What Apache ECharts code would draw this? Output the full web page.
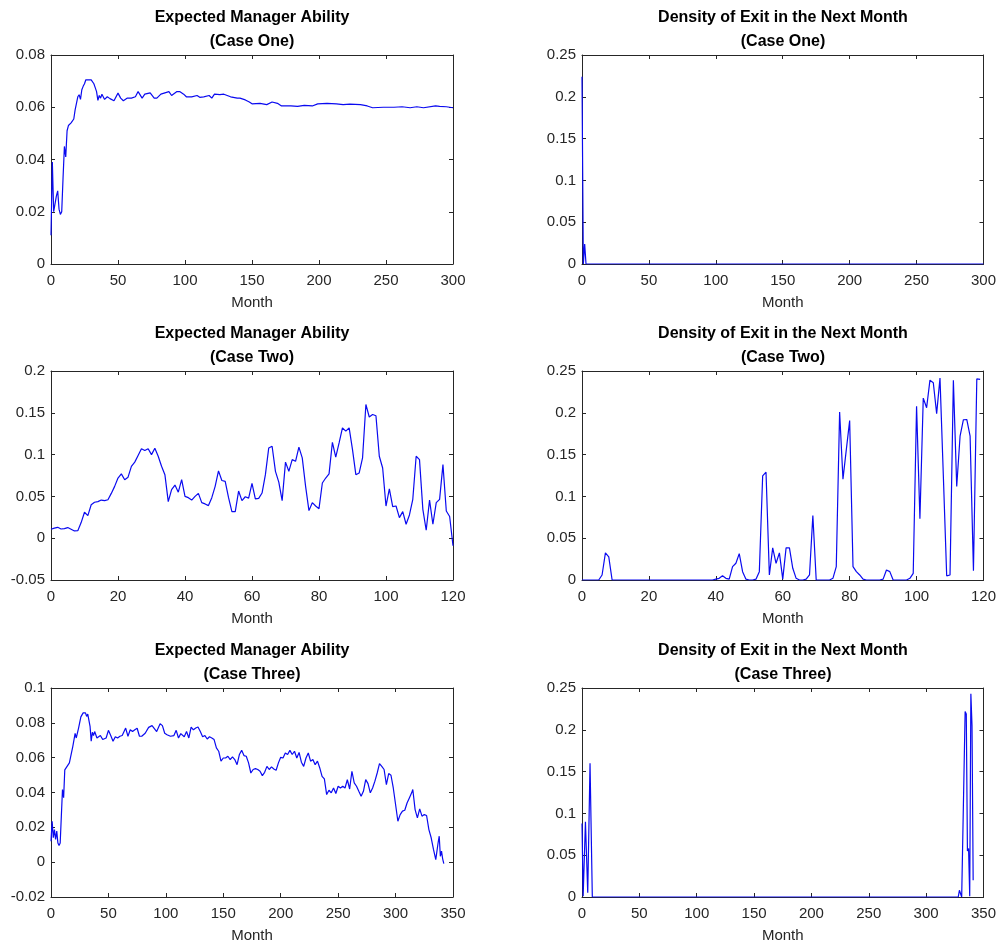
<!DOCTYPE html>
<html>
<head>
<meta charset="utf-8">
<script src="https://cdn.jsdelivr.net/npm/echarts@6/dist/echarts.min.js"></script>
<style>
html,body{margin:0;padding:0;background:#fff;}
#chart{width:999px;height:945px;}
</style>
</head>
<body>
<div id="chart"></div>
<script>
// ---------- Data ----------
const titles = [
  "Expected Manager Ability\n(Case One)",
  "Density of Exit in the Next Month\n(Case One)",
  "Expected Manager Ability\n(Case Two)",
  "Density of Exit in the Next Month\n(Case Two)",
  "Expected Manager Ability\n(Case Three)",
  "Density of Exit in the Next Month\n(Case Three)"
];
const xAxisName = "Month";

// Case One - expected ability
const abilityOneMonths = [0,1,2,3,4,5,6,7,8,9,10,11,12,13,14,15,16,17,18,19,20,21,22,23,24,25,26,27,28,29,30,31,32,33,34,35,36,37,38,39,40,42,44,47,50,52,54,57,60,63,65,68,70,74,77,79,82,85,88,90,94,96,99,101,105,109,111,114,118,120,122,126,129,134,139,141,145,148,150,156,161,165,169,172,179,184,189,195,199,206,213,218,223,231,236,240,248,256,262,268,273,278,287,290,295,300];
const abilityOneValues = [0.011,0.039,0.020,0.020,0.026,0.028,0.021,0.019,0.020,0.033,0.045,0.041,0.051,0.053,0.0535,0.054,0.054,0.0555,0.059,0.0615,0.064,0.0648,0.063,0.0667,0.068,0.069,0.0705,0.0703,0.0705,0.0698,0.0705,0.0698,0.069,0.0675,0.066,0.0626,0.0645,0.0635,0.065,0.0645,0.063,0.064,0.0633,0.0625,0.0654,0.0635,0.0625,0.0635,0.0635,0.064,0.066,0.0635,0.065,0.0655,0.0635,0.0635,0.065,0.0655,0.066,0.0645,0.066,0.066,0.065,0.064,0.064,0.0645,0.0638,0.064,0.0645,0.0635,0.065,0.0648,0.065,0.064,0.0635,0.0635,0.0628,0.062,0.0613,0.0615,0.061,0.062,0.0615,0.0605,0.0605,0.0603,0.0607,0.0605,0.0613,0.0615,0.0613,0.061,0.0612,0.061,0.0605,0.0598,0.060,0.060,0.0602,0.0598,0.0602,0.0598,0.0605,0.0603,0.0602,0.0598];

// Case One - density of exit
const exitOneMonths = [0,1,2,3,300];
const exitOneValues = [0.224,0.0,0.024,0.0,0.0];

// Case Two - expected ability (months 0..120)
const abilityTwoValues = [0.0107,0.012,0.013,0.011,0.0115,0.0127,0.0107,0.0087,0.009,0.0187,
  0.031,0.027,0.040,0.043,0.0437,0.0456,0.045,0.046,0.0536,0.062,
  0.072,0.077,0.070,0.073,0.086,0.091,0.099,0.107,0.105,0.107,
  0.100,0.1075,0.098,0.086,0.076,0.0437,0.058,0.0635,0.055,0.070,
  0.050,0.0485,0.0456,0.050,0.0536,0.0425,0.041,0.039,0.0485,0.062,
  0.0805,0.069,0.068,0.0485,0.0318,0.0318,0.0564,0.045,0.0496,0.048,
  0.0655,0.047,0.0476,0.054,0.076,0.108,0.110,0.080,0.067,0.045,
  0.091,0.080,0.094,0.092,0.109,0.096,0.062,0.033,0.0425,0.0385,
  0.0353,0.066,0.072,0.077,0.1147,0.097,0.114,0.132,0.128,0.132,
  0.106,0.076,0.078,0.096,0.160,0.145,0.148,0.1465,0.098,0.084,
  0.0385,0.059,0.0377,0.0385,0.0246,0.0318,0.0167,0.0278,0.0465,0.098,
  0.094,0.0345,0.0095,0.0456,0.0167,0.0425,0.0465,0.088,0.0325,0.026,
  -0.009];

// Case Two - density of exit (months 0..119)
const exitTwoValues = [0,0,0,0,0,0,0.006,0.0324,0.0277,0,
  0,0,0,0,0,0,0,0,0,0,
  0,0,0,0,0,0,0,0,0,0,
  0,0,0,0,0,0,0,0,0,0,
  0.001,0.002,0.005,0.002,0.001,0.016,0.020,0.0316,0.010,0.001,
  0,0,0.001,0.010,0.1246,0.129,0.006,0.0384,0.020,0.0324,
  0.001,0.0384,0.0384,0.014,0.002,0,0,0.001,0.006,0.0771,
  0,0,0,0,0,0.002,0.016,0.201,0.1206,0.156,
  0.1907,0.016,0.010,0.006,0.001,0,0,0,0,0,
  0.001,0.012,0.010,0,0,0,0,0,0.002,0.008,
  0.2077,0.0732,0.2176,0.206,0.239,0.236,0.199,0.2415,0.1246,0.005,
  0.006,0.239,0.112,0.172,0.1917,0.192,0.172,0.011,0.2405,0.240];

// Case Three - expected ability
const abilityThreeMonths = [0,1,2,3,4,5,6,7,8,9,10,11,12,14,16,17,19,21,22,24,26,28,30,31,32,34,35,36,37,38,40,43,45,48,50,52,54,56,58,60,62,65,67,69,71,73,75,77,79,82,85,88,90,92,95,97,99,101,104,107,109,111,113,116,118,120,122,124,126,128,130,132,134,136,138,140,142,144,146,148,150,152,154,156,158,160,162,164,166,168,170,172,174,176,178,180,182,184,186,188,190,192,194,196,198,200,202,204,206,208,210,212,214,216,218,220,222,224,226,228,230,232,234,236,238,240,242,244,246,248,250,252,254,256,258,260,262,264,266,268,270,272,274,276,278,280,282,284,286,288,290,292,294,296,298,300,302,304,306,308,310,312,314,315,317,319,321,323,325,327,329,330,331,333,335,337,338,339,340,341,342];
const abilityThreeValues = [0.012,0.0235,0.014,0.0187,0.013,0.0178,0.011,0.0096,0.011,0.0264,0.0417,0.037,0.053,0.055,0.057,0.056,0.0665,0.074,0.0713,0.077,0.0834,0.0857,0.0857,0.0837,0.085,0.078,0.0694,0.0746,0.0727,0.075,0.0713,0.0727,0.0704,0.0713,0.0757,0.0727,0.0694,0.072,0.0713,0.0723,0.0727,0.077,0.0723,0.076,0.075,0.076,0.0769,0.0723,0.0723,0.074,0.0774,0.0784,0.0767,0.075,0.0795,0.0784,0.074,0.0732,0.0723,0.0727,0.0757,0.0713,0.0738,0.072,0.075,0.0713,0.0776,0.076,0.077,0.0776,0.075,0.072,0.0727,0.0707,0.072,0.0713,0.0704,0.0656,0.0637,0.058,0.0598,0.0598,0.0608,0.0589,0.0604,0.0589,0.056,0.0618,0.0642,0.0612,0.0608,0.057,0.0512,0.0532,0.0537,0.0532,0.0522,0.0497,0.0516,0.055,0.0532,0.0547,0.0535,0.0528,0.057,0.0602,0.0598,0.0627,0.0618,0.0642,0.0618,0.0637,0.0598,0.063,0.0574,0.055,0.0598,0.0627,0.058,0.0589,0.056,0.058,0.0541,0.0493,0.0478,0.0388,0.0413,0.0398,0.0426,0.0394,0.0436,0.0426,0.0436,0.0426,0.0474,0.042,0.0522,0.0455,0.0436,0.0407,0.0379,0.0407,0.0474,0.0451,0.0398,0.0426,0.0465,0.0512,0.0566,0.055,0.0532,0.0445,0.0509,0.0499,0.0426,0.0331,0.0235,0.0273,0.0293,0.0298,0.034,0.0369,0.0398,0.0417,0.0302,0.0254,0.0306,0.0264,0.0273,0.0268,0.0187,0.0178,0.014,0.0073,0.0015,0.011,0.0149,0.0034,0.0063,0.0019,-0.0008];

// Case Three - density of exit
const exitThreeMonths = [0,1,3,5,7,9,328,329,330,331,334,335,336,337,338,339,340,341];
const exitThreeValues = [0.088,0.001,0.090,0.005,0.160,0.0,0.0,0.008,0.007,0.0,0.222,0.219,0.055,0.058,0.001,0.243,0.205,0.020];

// Axis scales per panel: [xmin, xmax, xstep, ymin, ymax, ystep]
const scales = [
  [0,300,50, 0,0.08,0.02],
  [0,300,50, 0,0.25,0.05],
  [0,120,20, -0.05,0.2,0.05],
  [0,120,20, 0,0.25,0.05],
  [0,350,50, -0.02,0.1,0.02],
  [0,350,50, 0,0.25,0.05]
];

const zip = (xs, ys) => ys.map((v, i) => [xs[i], v]);
const idx = ys => ys.map((v, i) => [i, v]);
const panelData = [
  zip(abilityOneMonths, abilityOneValues),
  zip(exitOneMonths, exitOneValues),
  idx(abilityTwoValues),
  idx(exitTwoValues),
  zip(abilityThreeMonths, abilityThreeValues),
  zip(exitThreeMonths, exitThreeValues)
];

// ---------- Layout ----------
const FONT = "'Liberation Sans', Arial, Helvetica, sans-serif";
const AX = '#262626';
const colLeft = [51, 582];
const rowTop = [55, 371, 688];
const gw = 402, gh = 209;

const grids = [], xAxes = [], yAxes = [], series = [], titleList = [];
for (let p = 0; p < 6; p++) {
  const r = Math.floor(p / 2), c = p % 2;
  const [x0, x1, xs, y0, y1, ys] = scales[p];
  grids.push({left: colLeft[c], top: rowTop[r], width: gw, height: gh, containLabel: false});
  const base = {
    gridIndex: p, type: 'value', min: x0, max: x1, interval: xs,
    axisLine: {show: true, onZero: false, lineStyle: {color: AX, width: 1}},
    axisTick: {show: true, inside: true, length: 4, lineStyle: {color: AX}},
    splitLine: {show: false}
  };
  xAxes.push(Object.assign({}, base, {
    position: 'bottom',
    name: xAxisName, nameLocation: 'middle', nameGap: 31,
    nameTextStyle: {fontFamily: FONT, fontSize: 15, color: AX},
    axisLabel: {show: true, margin: 9, fontFamily: FONT, fontSize: 15, color: AX, showMinLabel: true, showMaxLabel: true}
  }));
  xAxes.push(Object.assign({}, base, {position: 'top', axisLabel: {show: false}}));
  const ybase = {
    gridIndex: p, type: 'value', min: y0, max: y1, interval: ys,
    axisLine: {show: true, onZero: false, lineStyle: {color: AX, width: 1}},
    axisTick: {show: true, inside: true, length: 4, lineStyle: {color: AX}},
    splitLine: {show: false}
  };
  yAxes.push(Object.assign({}, ybase, {
    position: 'left',
    axisLabel: {show: true, margin: 6, fontFamily: FONT, fontSize: 15, color: AX, showMinLabel: true, showMaxLabel: true}
  }));
  yAxes.push(Object.assign({}, ybase, {position: 'right', axisLabel: {show: false}}));
  series.push({
    type: 'line', xAxisIndex: 2 * p, yAxisIndex: 2 * p,
    data: panelData[p], showSymbol: false, symbol: 'none',
    lineStyle: {color: '#0a0af0', width: 1.2}, itemStyle: {color: '#0a0af0'},
    animation: false, clip: true
  });
  titleList.push({
    text: titles[p], left: colLeft[c] + gw / 2, top: rowTop[r] - 49, textAlign: 'center', padding: 0,
    textStyle: {fontFamily: FONT, fontSize: 16, fontWeight: 'bold', color: '#000', lineHeight: 24}
  });
}

const chart = echarts.init(document.getElementById('chart'));
chart.setOption({
  backgroundColor: '#fff',
  animation: false,
  title: titleList,
  grid: grids,
  xAxis: xAxes,
  yAxis: yAxes,
  series: series
});
</script>
</body>
</html>
